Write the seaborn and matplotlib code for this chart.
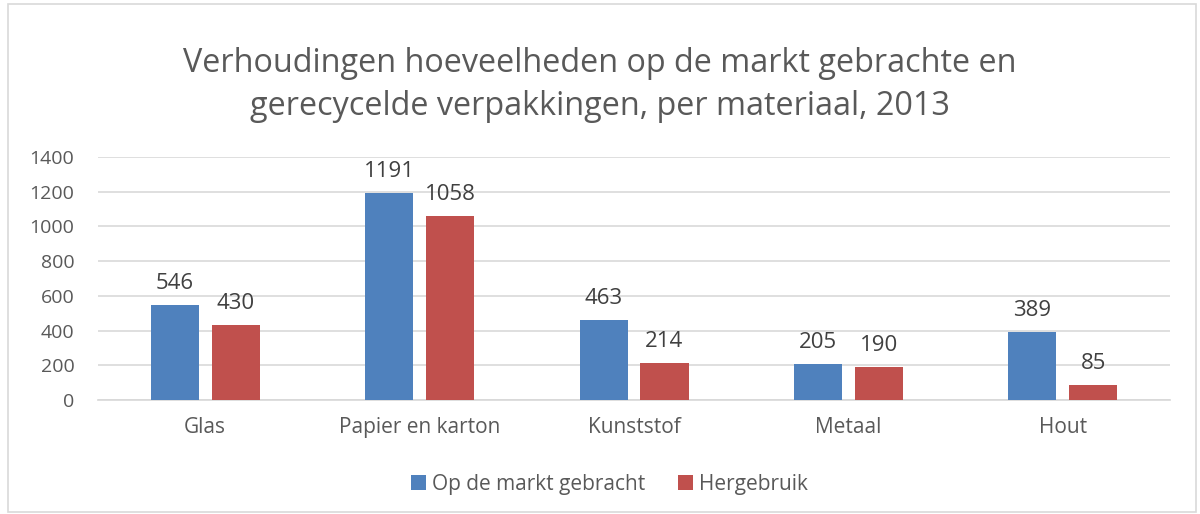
import matplotlib
matplotlib.use("Agg")
import matplotlib.pyplot as plt
import seaborn as sns
import pandas as pd
from matplotlib.patches import Rectangle

categories = ["Glas", "Papier en karton", "Kunststof", "Metaal", "Hout"]
markt = [546, 1191, 463, 205, 389]
hergebruik = [430, 1058, 214, 190, 85]
series_names = ["Op de markt gebracht", "Hergebruik"]
colors = ["#4F81BD", "#C0504D"]
title = "Verhoudingen hoeveelheden op de markt gebrachte en\ngerecycelde verpakkingen, per materiaal, 2013"

df = pd.DataFrame({
    "cat": categories * 2,
    "val": markt + hergebruik,
    "serie": [series_names[0]] * len(categories) + [series_names[1]] * len(categories),
})

sns.set_theme(style="white")
plt.rcParams["font.family"] = ["Open Sans", "DejaVu Sans"]
txt = "#595959"

fig = plt.figure(figsize=(12, 5.14), dpi=100)
ax = fig.add_axes([0.0817, 0.2218, 0.8933, 0.4728])
sns.barplot(data=df, x="cat", y="val", hue="serie", palette=colors, ax=ax,
            width=0.568, gap=0.21, saturation=1, legend=True, zorder=3,
            linewidth=0, edgecolor="none")

ax.set_ylim(0, 1400)
ax.set_xlim(-0.5, 4.5)
ax.set_yticks(range(0, 1401, 200))
ax.yaxis.grid(True, color="#D9D9D9", linewidth=1.2, zorder=0)
ax.set_axisbelow(True)
for s in ["top", "right", "left"]:
    ax.spines[s].set_visible(False)
ax.spines["bottom"].set_color("#D9D9D9")
ax.tick_params(axis="y", length=0, labelsize=14, colors=txt, pad=17)
ax.tick_params(axis="x", length=0, labelsize=15, colors=txt, pad=12)
ax.set_xlabel("")
ax.set_ylabel("")

for cont in ax.containers:
    ax.bar_label(cont, fmt="%d", padding=8, fontsize=16, color="#404040")

handles, labels = ax.get_legend_handles_labels()
ax.legend(handles, labels, loc="center", bbox_to_anchor=(0.508, 0.058),
          bbox_transform=fig.transFigure, ncol=2, frameon=False,
          fontsize=15, handlelength=0.7, handleheight=0.7, handletextpad=0.3,
          columnspacing=1.6, labelcolor=txt)

fig.text(0.5, 0.835, title, ha="center", va="center", fontsize=23.3, color=txt,
         linespacing=1.4)

fig.patches.append(Rectangle((0.007, 0.003), 0.99, 0.99, transform=fig.transFigure,
                             fill=False, edgecolor="#D9D9D9", linewidth=1.2))

fig.savefig("out.png", dpi=100, facecolor="white")
